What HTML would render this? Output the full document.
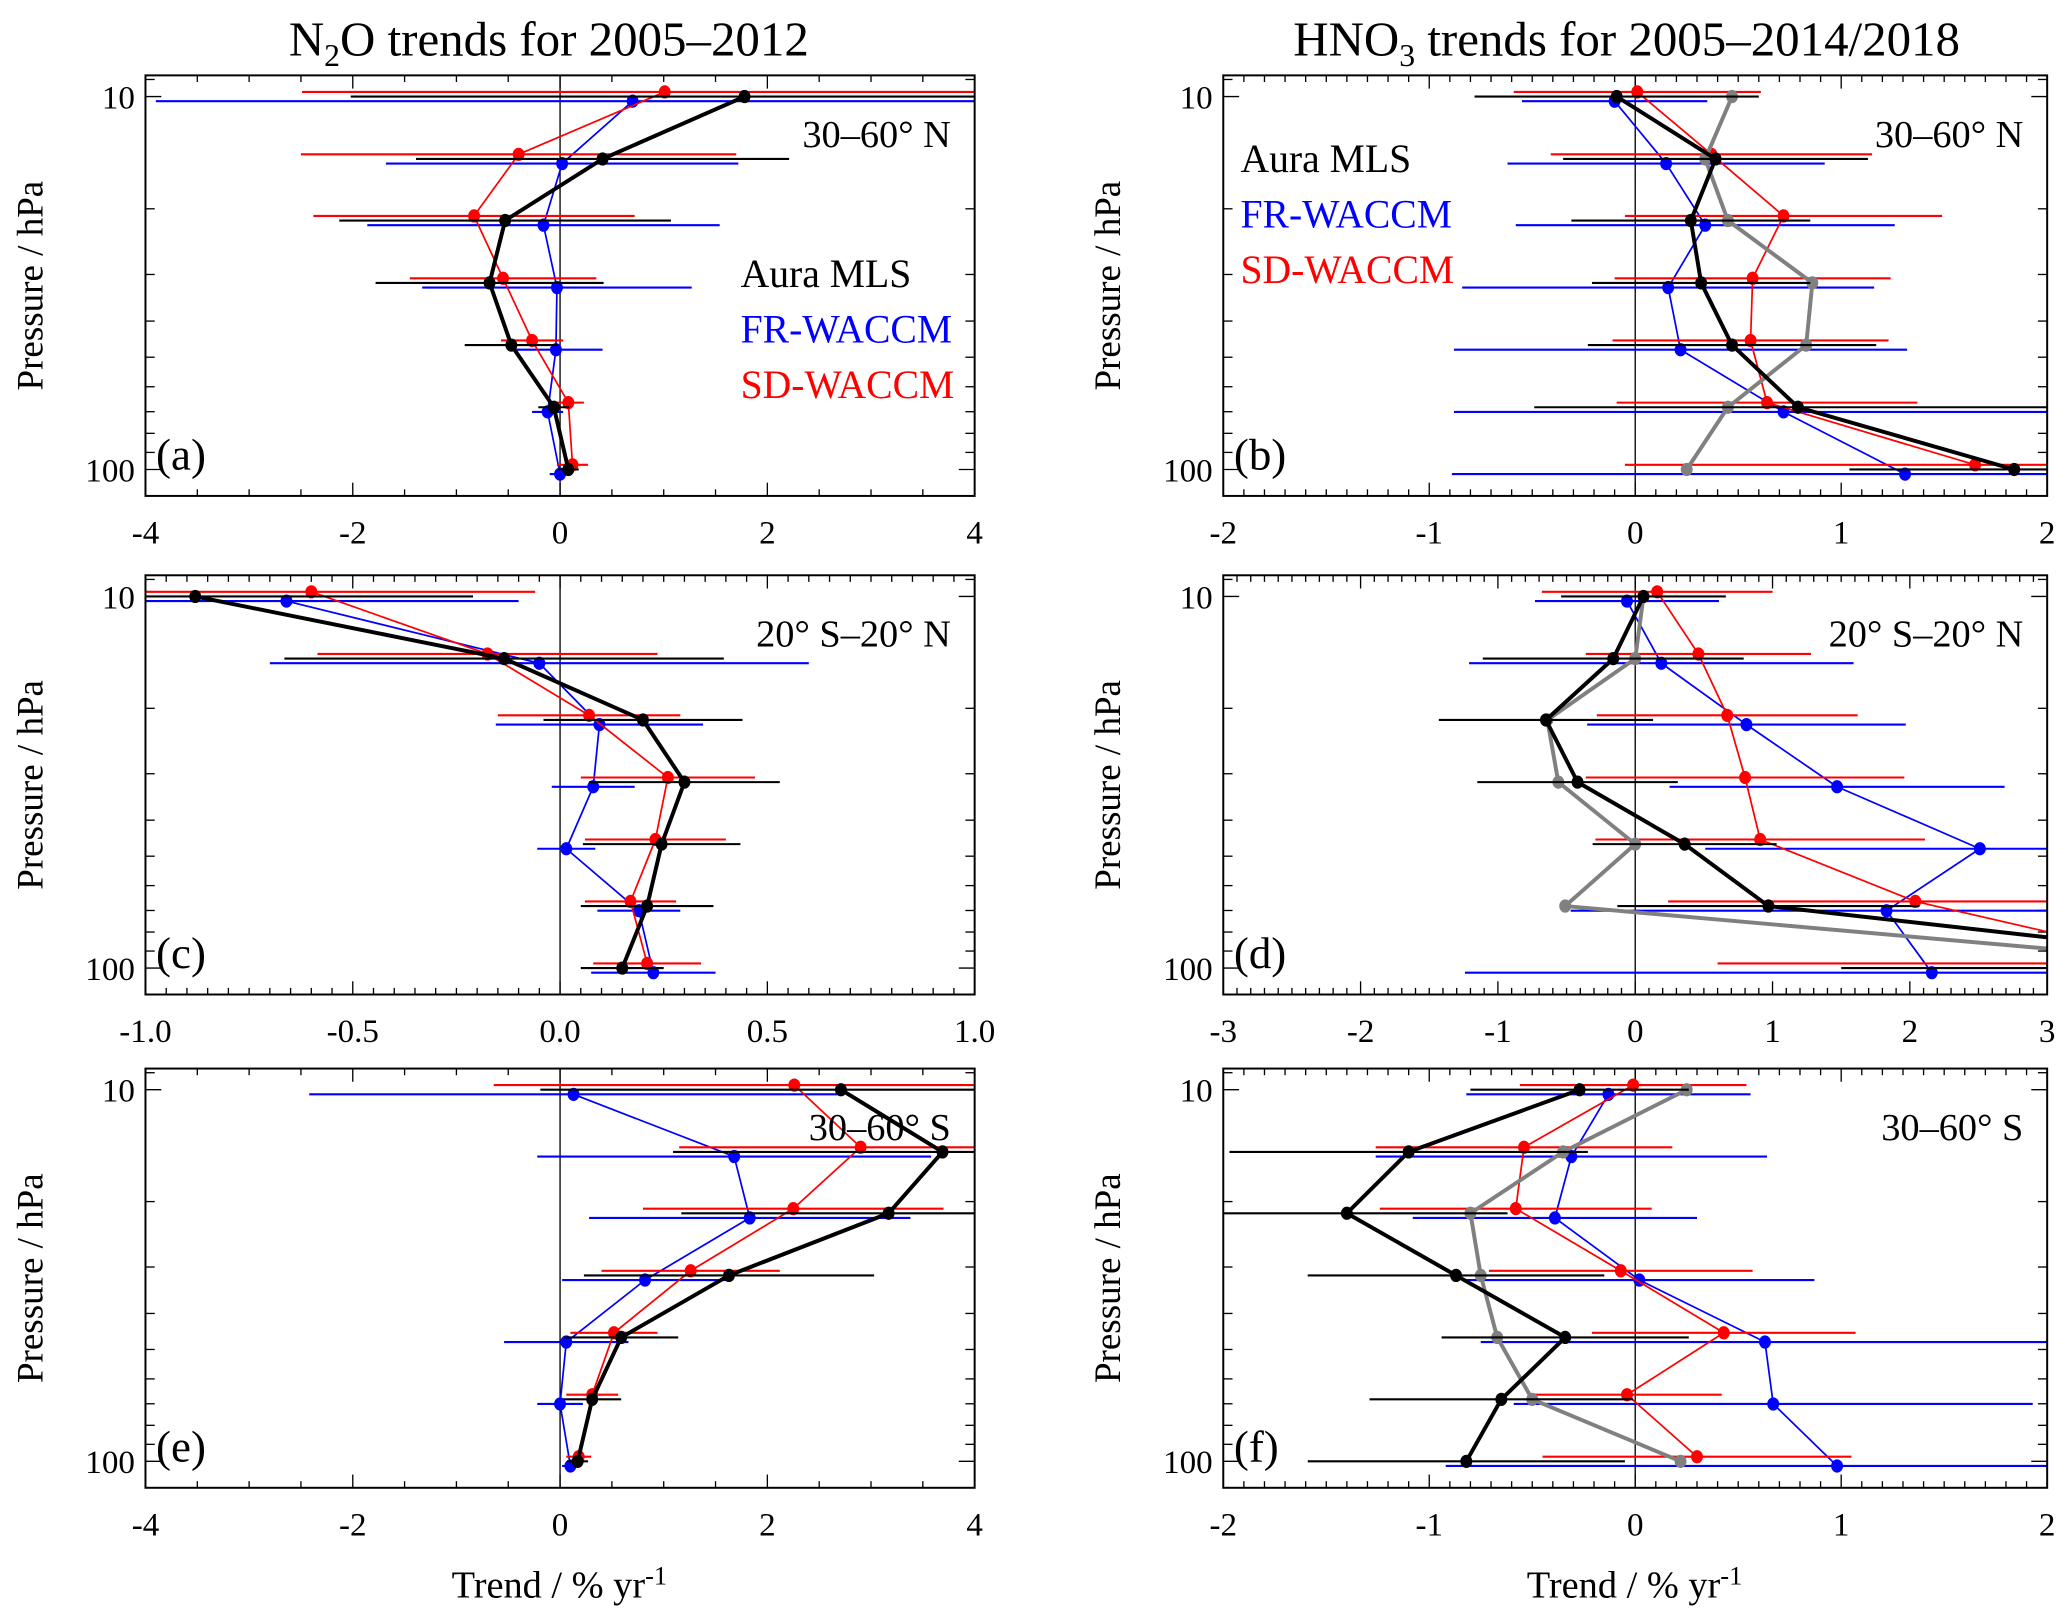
<!DOCTYPE html>
<html><head><meta charset="utf-8">
<style>
html,body{margin:0;padding:0;background:#fff;}
svg{display:block;font-family:"Liberation Serif",serif;}
svg text{font-family:"Liberation Serif",serif;}
</style></head>
<body>
<svg id="chart" width="2067" height="1624" viewBox="0 0 1563 1228" preserveAspectRatio="none" xmlns="http://www.w3.org/2000/svg">
<rect x="0" y="0" width="1563" height="1228" fill="#fff"/>
<text x="415" y="42" font-size="37" text-anchor="middle">N<tspan font-size="24" dy="8">2</tspan><tspan dy="-8">O trends for 2005–2012</tspan></text>
<text x="1230" y="42" font-size="37" text-anchor="middle">HNO<tspan font-size="24" dy="8">3</tspan><tspan dy="-8"> trends for 2005–2014/2018</tspan></text>
<text x="423" y="1208" font-size="29" text-anchor="middle">Trend / % yr<tspan font-size="20" dy="-10">-1</tspan></text>
<text x="1236" y="1208" font-size="29" text-anchor="middle">Trend / % yr<tspan font-size="20" dy="-10">-1</tspan></text>
<g id="plots"></g>
</svg>
<script>
const levels = [10, 14.7, 21.5, 31.6, 46.4, 68.1, 100];

const aBlack = [1.78, 0.41, -0.53, -0.68, -0.47, -0.06, 0.08];
const aBlackErr = [3.8, 1.8, 1.6, 1.1, 0.45, 0.15, 0.1];
const aBlue = [0.7, 0.02, -0.16, -0.03, -0.04, -0.12, 0.0];
const aBlueErr = [4.6, 1.7, 1.7, 1.3, 0.45, 0.15, 0.1];
const aRed = [1.01, -0.4, -0.83, -0.55, -0.27, 0.08, 0.12];
const aRedErr = [3.5, 2.1, 1.55, 0.9, 0.3, 0.15, 0.15];

const bBlack = [-0.09, 0.39, 0.27, 0.32, 0.47, 0.79, 1.84];
const bBlackErr = [0.69, 0.74, 0.58, 0.53, 0.7, 1.28, 0.8];
const bBlue = [-0.1, 0.15, 0.34, 0.16, 0.22, 0.72, 1.31];
const bBlueErr = [0.45, 0.77, 0.92, 1.0, 1.1, 1.6, 2.2];
const bRed = [0.01, 0.37, 0.72, 0.57, 0.56, 0.64, 1.65];
const bRedErr = [0.6, 0.78, 0.77, 0.67, 0.67, 0.73, 1.7];
const bGray = [0.47, 0.34, 0.45, 0.86, 0.83, 0.45, 0.25];

const cBlack = [-0.88, -0.135, 0.2, 0.3, 0.245, 0.21, 0.15];
const cBlackErr = [0.67, 0.53, 0.24, 0.23, 0.19, 0.16, 0.1];
const cBlue = [-0.66, -0.05, 0.095, 0.08, 0.015, 0.19, 0.225];
const cBlueErr = [0.56, 0.65, 0.25, 0.1, 0.07, 0.1, 0.15];
const cRed = [-0.6, -0.175, 0.07, 0.26, 0.23, 0.17, 0.21];
const cRedErr = [0.54, 0.41, 0.22, 0.21, 0.17, 0.11, 0.13];

const dBlack = [0.06, -0.16, -0.65, -0.42, 0.36, 0.97, 5.0];
const dBlackErr = [0.6, 0.95, 0.78, 0.73, 0.67, 1.1, 3.5];
const dBlue = [-0.06, 0.19, 0.81, 1.47, 2.51, 1.83, 2.16];
const dBlueErr = [0.67, 1.4, 1.16, 1.22, 2.0, 2.3, 3.4];
const dRed = [0.16, 0.46, 0.67, 0.8, 0.91, 2.04, 4.0];
const dRedErr = [0.84, 0.82, 0.95, 1.16, 1.2, 1.8, 3.4];
const dGray = [0.06, 0.0, -0.64, -0.56, 0.0, -0.51, 4.6];

const eBlack = [2.71, 3.69, 3.17, 1.63, 0.59, 0.31, 0.17];
const eBlackErr = [2.9, 2.6, 2.0, 1.4, 0.55, 0.28, 0.1];
const eBlue = [0.13, 1.68, 1.83, 0.82, 0.06, 0.0, 0.1];
const eBlueErr = [2.55, 1.9, 1.55, 0.8, 0.6, 0.22, 0.08];
const eRed = [2.26, 2.9, 2.25, 1.26, 0.52, 0.31, 0.18];
const eRedErr = [2.9, 1.75, 1.45, 0.86, 0.42, 0.25, 0.12];

const fBlack = [-0.27, -1.1, -1.4, -0.87, -0.34, -0.65, -0.82];
const fBlackErr = [0.53, 0.87, 0.78, 0.72, 0.6, 0.64, 0.77];
const fBlue = [-0.13, -0.31, -0.39, 0.02, 0.63, 0.67, 0.98];
const fBlueErr = [0.69, 0.95, 0.69, 0.85, 1.38, 1.26, 1.9];
const fRed = [-0.01, -0.54, -0.58, -0.07, 0.43, -0.04, 0.3];
const fRedErr = [0.55, 0.72, 0.66, 0.64, 0.64, 0.46, 0.75];
const fGray = [0.25, -0.35, -0.8, -0.75, -0.67, -0.5, 0.22];

const aTicks = ["-4","-2","0","2","4"];
const bTicks = ["-2","-1","0","1","2"];
const cTicks = ["-1.0","-0.5","0.0","0.5","1.0"];
const dTicks = ["-3","-2","-1","0","1","2","3"];

const NS = "http://www.w3.org/2000/svg";
const root = document.getElementById('plots');
function el(tag, attrs, parent) {
  const e = document.createElementNS(NS, tag);
  for (const k in attrs) e.setAttribute(k, attrs[k]);
  if (tag === 'text') e.setAttribute('font-family', '"Liberation Serif", serif');
  (parent || root).appendChild(e);
  return e;
}

const panels = [
  {id:'a', x0:110, x1:737, y0:57, y1:375, xmin:-4, xmax:4, minor:0.5, ticks:aTicks, region:'30–60° N', legend:[560,217],
   series:[[aBlue,aBlueErr,'#0000ff',1.3,3.5],[aRed,aRedErr,'#ff0000',1.3,-3.5],[aBlack,aBlackErr,'#000',3,0]]},
  {id:'b', x0:925, x1:1548, y0:57, y1:375, xmin:-2, xmax:2, minor:0.1, ticks:bTicks, region:'30–60° N', legend:[938,130],
   series:[[bBlue,bBlueErr,'#0000ff',1.3,3.5],[bRed,bRedErr,'#ff0000',1.3,-3.5],[bGray,null,'#808080',3,0],[bBlack,bBlackErr,'#000',3,0]]},
  {id:'c', x0:110, x1:737, y0:435, y1:752, xmin:-1, xmax:1, minor:0.05, ticks:cTicks, region:'20° S–20° N',
   series:[[cBlue,cBlueErr,'#0000ff',1.3,3.5],[cRed,cRedErr,'#ff0000',1.3,-3.5],[cBlack,cBlackErr,'#000',3,0]]},
  {id:'d', x0:925, x1:1548, y0:435, y1:752, xmin:-3, xmax:3, minor:0.1, ticks:dTicks, region:'20° S–20° N',
   series:[[dBlue,dBlueErr,'#0000ff',1.3,3.5],[dRed,dRedErr,'#ff0000',1.3,-3.5],[dGray,null,'#808080',3,0],[dBlack,dBlackErr,'#000',3,0]]},
  {id:'e', x0:110, x1:737, y0:808, y1:1125, xmin:-4, xmax:4, minor:0.5, ticks:aTicks, region:'30–60° S',
   series:[[eBlue,eBlueErr,'#0000ff',1.3,3.5],[eRed,eRedErr,'#ff0000',1.3,-3.5],[eBlack,eBlackErr,'#000',3,0]]},
  {id:'f', x0:925, x1:1548, y0:808, y1:1125, xmin:-2, xmax:2, minor:0.1, ticks:bTicks, region:'30–60° S',
   series:[[fBlue,fBlueErr,'#0000ff',1.3,3.5],[fRed,fRedErr,'#ff0000',1.3,-3.5],[fGray,null,'#808080',3,0],[fBlack,fBlackErr,'#000',3,0]]}
];
const seriesNames = {'#0000ff':'fr-waccm','#ff0000':'sd-waccm','#000':'aura-mls','#808080':'mls-extended'};

panels.forEach(p => {
  const g = el('g', {});
  
  
  const y10 = p.y0 + 16, y100 = p.y1 - 20;
  const xs = v => p.x0 + (v - p.xmin) / (p.xmax - p.xmin) * (p.x1 - p.x0);
  const ys = v => y10 + (Math.log10(v) - 1) * (y100 - y10);
  const clipId = 'clip' + p.id;
  const cp = el('clipPath', {id: clipId}, g);
  el('rect', {x:p.x0, y:p.y0, width:p.x1-p.x0, height:p.y1-p.y0}, cp);
  const z = el('line', {x1:xs(0), x2:xs(0), y1:p.y0, y2:p.y1, stroke:'#000', 'stroke-width':1}, g);
  
  
  const nMinor = Math.round((p.xmax - p.xmin) / p.minor);
  const majorStep = (p.xmax - p.xmin) / (p.ticks.length - 1);
  for (let i = 0; i <= nMinor; i++) {
    const v = p.xmin + i * p.minor;
    const isMajor = Math.abs((v - p.xmin) / majorStep - Math.round((v - p.xmin) / majorStep)) < 1e-6;
    const len = isMajor ? 10 : 5;
    el('line', {x1:xs(v), x2:xs(v), y1:p.y1, y2:p.y1-len, stroke:'#000', 'stroke-width':1}, g);
    el('line', {x1:xs(v), x2:xs(v), y1:p.y0, y2:p.y0+len, stroke:'#000', 'stroke-width':1}, g);
  }
  p.ticks.forEach((t, i) => {
    const tx = el('text', {x:xs(p.xmin + i*majorStep), y:p.y1+36, 'font-size':25, 'text-anchor':'middle'}, g);
    tx.textContent = t;
    
    
  });
  const yt = [9,10,20,30,40,50,60,70,80,90,100];
  yt.forEach(v => {
    const len = (v === 10 || v === 100) ? 12 : 7;
    const yy = ys(v);
    if (yy < p.y0 || yy > p.y1) return;
    el('line', {x1:p.x0, x2:p.x0+len, y1:yy, y2:yy, stroke:'#000', 'stroke-width':1}, g);
    el('line', {x1:p.x1, x2:p.x1-len, y1:yy, y2:yy, stroke:'#000', 'stroke-width':1}, g);
  });
  [[10,'10'],[100,'100']].forEach(([v,s]) => {
    const tx = el('text', {x:p.x0-8, y:ys(v)+9, 'font-size':25, 'text-anchor':'end'}, g);
    tx.textContent = s;
    
    
  });
  const yl = el('text', {x:0, y:0, 'font-size':28, 'text-anchor':'middle', transform:`translate(${p.x0-78},${(p.y0+p.y1)/2}) rotate(-90)`}, g);
  yl.textContent = 'Pressure / hPa';
  
  
  const dg = el('g', {'clip-path':`url(#${clipId})`}, g);
  p.series.forEach(([vals, errs, col, w, off]) => {
    const sg = el('g', {}, dg);
    
    
    if (errs) {
      vals.forEach((v, i) => {
        const yy = ys(levels[i]) + off;
        const eb = el('line', {x1:xs(v-errs[i]), x2:xs(v+errs[i]), y1:yy, y2:yy, stroke:col, 'stroke-width':1.6}, sg);
        
        
      });
    }
    const pts = vals.map((v, i) => xs(v) + ',' + (ys(levels[i]) + off)).join(' ');
    const pl = el('polyline', {points:pts, fill:'none', stroke:col, 'stroke-width':w, 'stroke-linejoin':'round'}, sg);
    
    
    vals.forEach((v, i) => {
      const c = el('ellipse', {cx:xs(v), cy:ys(levels[i]) + off, rx:4.5, ry:5, fill:col}, sg);
      
      
    });
  });
  const fr = el('rect', {x:p.x0, y:p.y0, width:p.x1-p.x0, height:p.y1-p.y0, fill:'none', stroke:'#000', 'stroke-width':1.5}, g);
  
  
  const rl = el('text', {x:p.x1-18, y:p.y0+54, 'font-size':29, 'text-anchor':'end'}, g);
  rl.textContent = p.region;
  
  
  const pl2 = el('text', {x:p.x0+8, y:p.y1-20, 'font-size':34}, g);
  pl2.textContent = '(' + p.id + ')';
  
  
  if (p.legend) {
    [['Aura MLS','#000'],['FR-WACCM','#0000ff'],['SD-WACCM','#ff0000']].forEach(([t,c], i) => {
      const lt = el('text', {x:p.legend[0], y:p.legend[1] + i*42, 'font-size':30, fill:c}, g);
      lt.textContent = t;
      
      
    });
  }
});
</script>
</body></html>
